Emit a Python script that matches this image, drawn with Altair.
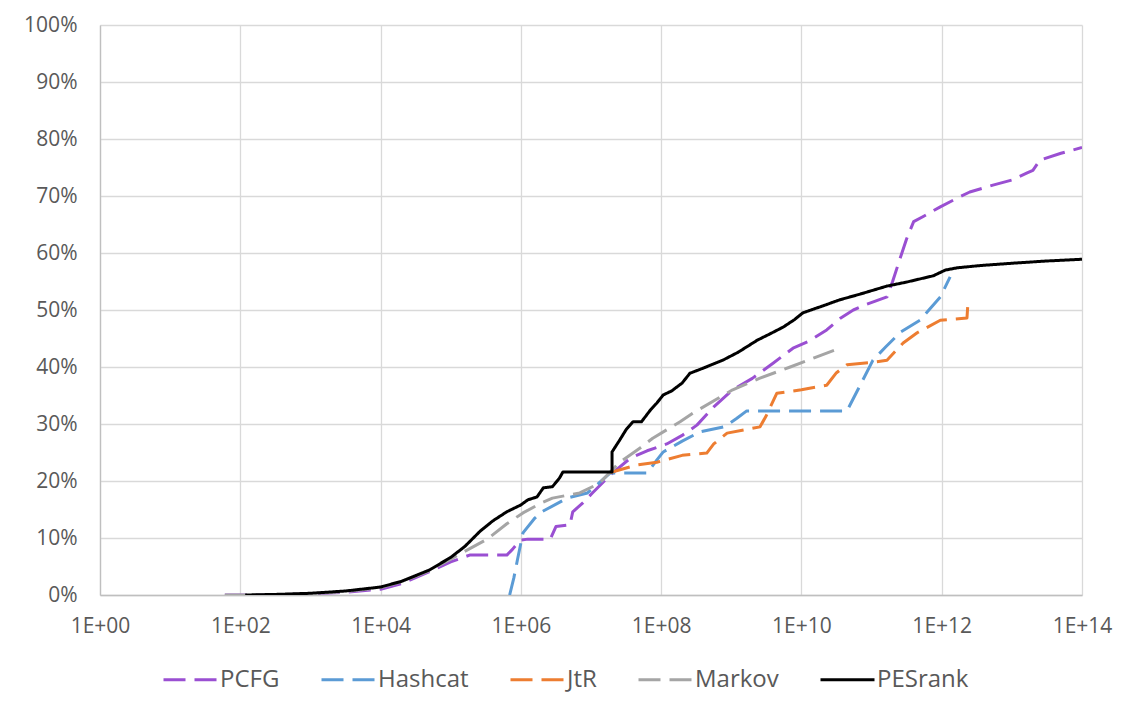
import altair as alt
import pandas as pd

series_names = ["PCFG", "Hashcat", "JtR", "Markov", "PESrank"]
series_colors = ["#9a4fd2", "#5b9bd5", "#ed7d31", "#a5a5a5", "#000000"]

# x values as log10(number of guesses); y in percent
pcfg_log = [1.78, 2.5, 3.0, 3.5, 4.0, 4.3, 4.75, 5.0, 5.27, 5.8, 5.88, 5.99, 6.1, 6.42, 6.5,
            6.7, 6.74, 6.88, 7.02, 7.27, 7.56, 7.8, 8.08, 8.3, 8.51, 8.75, 9.02, 9.3, 9.6,
            9.88, 10.1, 10.36, 10.55, 10.74, 10.93, 11.22, 11.3, 11.4, 11.5, 11.6, 11.75,
            11.98, 12.2, 12.4, 12.73, 13.0, 13.21, 13.3, 13.4, 13.7, 14.0]
pcfg_pct = [0.0, 0.05, 0.2, 0.5, 1.0, 2.0, 4.4, 5.8, 7.0, 7.0, 8.0, 9.6, 9.8, 9.8, 12.0,
            12.3, 14.6, 16.1, 17.9, 21.0, 24.0, 25.3, 26.5, 28.0, 29.8, 33.0, 36.0, 38.0, 40.7,
            43.3, 44.5, 46.5, 48.5, 50.0, 51.0, 52.3, 55.0, 58.8, 62.5, 65.5, 66.5,
            68.1, 69.5, 70.7, 71.9, 72.8, 74.0, 74.5, 76.3, 77.5, 78.5]

hashcat_log = [5.84, 5.9, 5.95, 6.03, 6.2, 6.3, 6.66, 6.95, 7.1, 7.27, 7.8, 7.94, 8.03, 8.3,
               8.55, 8.9, 9.08, 9.22, 10.65, 11.02, 11.2, 11.41, 11.69, 11.98, 12.12]
hashcat_pct = [0.0, 3.0, 6.1, 10.9, 13.5, 14.6, 17.0, 17.9, 19.5, 21.4, 21.4, 23.7, 25.1, 27.0,
               28.6, 29.5, 31.0, 32.3, 32.3, 41.2, 43.5, 46.1, 48.2, 52.3, 55.8]

jtr_log = [7.25, 7.65, 7.94, 8.3, 8.65, 8.75, 8.94, 9.2, 9.41, 9.5, 9.65, 10.0, 10.36, 10.5,
           10.65, 11.0, 11.22, 11.45, 11.65, 11.98, 12.36, 12.37]
jtr_pct = [21.4, 22.8, 23.3, 24.5, 24.9, 26.5, 28.4, 29.0, 29.5, 31.5, 35.4, 36.0, 36.8, 39.0,
           40.4, 40.8, 41.2, 44.2, 46.0, 48.2, 48.6, 50.5]

markov_log = [1.78, 2.5, 3.0, 3.5, 4.0, 4.3, 4.7, 5.0, 5.52, 5.8, 6.03, 6.3, 6.45, 6.84, 7.12,
              7.41, 7.7, 7.88, 8.27, 8.45, 9.02, 9.4, 9.84, 10.2, 10.55]
markov_pct = [0.0, 0.05, 0.25, 0.6, 1.3, 2.3, 4.3, 6.3, 9.8, 12.5, 14.4, 16.2, 17.0, 17.9, 19.6,
              23.3, 25.8, 27.5, 30.4, 31.9, 36.0, 38.0, 40.0, 41.7, 43.3]

pesrank_log = [2.07, 2.5, 3.0, 3.5, 4.0, 4.3, 4.7, 5.0, 5.2, 5.42, 5.6, 5.8, 6.0, 6.1, 6.23,
               6.32, 6.45, 6.55, 6.6, 7.3, 7.3, 7.41, 7.5, 7.6, 7.72, 7.85, 7.94, 8.03, 8.15,
               8.3, 8.41, 8.6, 8.88, 9.1, 9.37, 9.55, 9.74, 9.9, 10.02, 10.3, 10.55, 10.84,
               11.22, 11.5, 11.88, 12.05, 12.22, 12.55, 13.0, 13.5, 14.0]
pesrank_pct = [0.0, 0.1, 0.3, 0.7, 1.4, 2.4, 4.4, 6.6, 8.5, 11.2, 13.0, 14.6, 15.8, 16.7, 17.2,
               18.8, 19.0, 20.5, 21.6, 21.6, 25.1, 27.2, 29.0, 30.4, 30.4, 32.5, 33.7, 35.1, 35.8,
               37.2, 38.9, 39.8, 41.2, 42.6, 44.7, 45.8, 47.0, 48.3, 49.5, 50.7, 51.8, 52.8,
               54.2, 54.9, 56.0, 57.0, 57.4, 57.8, 58.2, 58.6, 58.9]

x_tick_values = [1e0, 1e2, 1e4, 1e6, 1e8, 1e10, 1e12, 1e14]
y_tick_values = [0, 10, 20, 30, 40, 50, 60, 70, 80, 90, 100]

series_data = {
    "PCFG": (pcfg_log, pcfg_pct),
    "Hashcat": (hashcat_log, hashcat_pct),
    "JtR": (jtr_log, jtr_pct),
    "Markov": (markov_log, markov_pct),
    "PESrank": (pesrank_log, pesrank_pct),
}

rows = []
for name, (xs, ys) in series_data.items():
    for i, (lx, p) in enumerate(zip(xs, ys)):
        rows.append({"series": name, "guesses": 10 ** lx, "pct": p, "idx": i})
df = pd.DataFrame(rows)

FONT = "Open Sans"
GRAY = "#595959"

color_scale = alt.Scale(domain=series_names, range=series_colors)
dash_scale = alt.Scale(domain=series_names,
                       range=[[22, 9], [22, 9], [22, 9], [22, 9], [1, 0]])

legend = alt.Legend(
    title=None, orient="none", legendX=62, legendY=626, direction="horizontal",
    columns=5, labelFont=FONT, labelFontSize=24, labelColor=GRAY,
    symbolType="stroke", symbolSize=2916, symbolStrokeWidth=3,
    labelOffset=1, columnPadding=35, labelLimit=300,
)

x_enc = alt.X(
    "guesses:Q",
    scale=alt.Scale(type="log", domain=[1, 1e14], nice=False),
    axis=alt.Axis(
        values=x_tick_values, title=None, ticks=False, tickSize=0,
        labelPadding=20, labelFont=FONT, labelFontSize=21, labelColor=GRAY,
        labelExpr="'1E+' + (datum.value < 1e10 ? '0' : '') + format(log(datum.value)/LN10, '.0f')",
        grid=True, gridColor="#d9d9d9", gridWidth=1.3,
        domainColor="#bfbfbf", domainWidth=1.3, labelFlush=False,
    ),
)
y_enc = alt.Y(
    "pct:Q",
    scale=alt.Scale(domain=[0, 100], nice=False),
    axis=alt.Axis(
        values=y_tick_values, title=None, ticks=False, tickSize=0,
        labelPadding=23, labelFont=FONT, labelFontSize=21, labelColor=GRAY,
        labelExpr="datum.value + '%'",
        grid=True, gridColor="#d9d9d9", gridWidth=1.3,
        domainColor="#bfbfbf", domainWidth=1.3,
    ),
)

layers = []
for name in series_names:
    layers.append(
        alt.Chart(df)
        .transform_filter(alt.datum.series == name)
        .mark_line(strokeWidth=3, strokeCap="butt", strokeJoin="round", clip=True)
        .encode(
            x=x_enc,
            y=y_enc,
            color=alt.Color("series:N", scale=color_scale, legend=legend),
            strokeDash=alt.StrokeDash("series:N", scale=dash_scale, legend=legend),
            order=alt.Order("idx:Q"),
        )
    )

chart = (
    alt.layer(*layers)
    .properties(
        width=982, height=570,
        autosize=alt.AutoSizeParams(type="none"),
        padding={"left": 92, "top": 17, "right": 46, "bottom": 112},
        background="white",
    )
    .configure_view(stroke=None)
)

chart.save("out.html", embed_options={"renderer": "svg", "actions": False})
